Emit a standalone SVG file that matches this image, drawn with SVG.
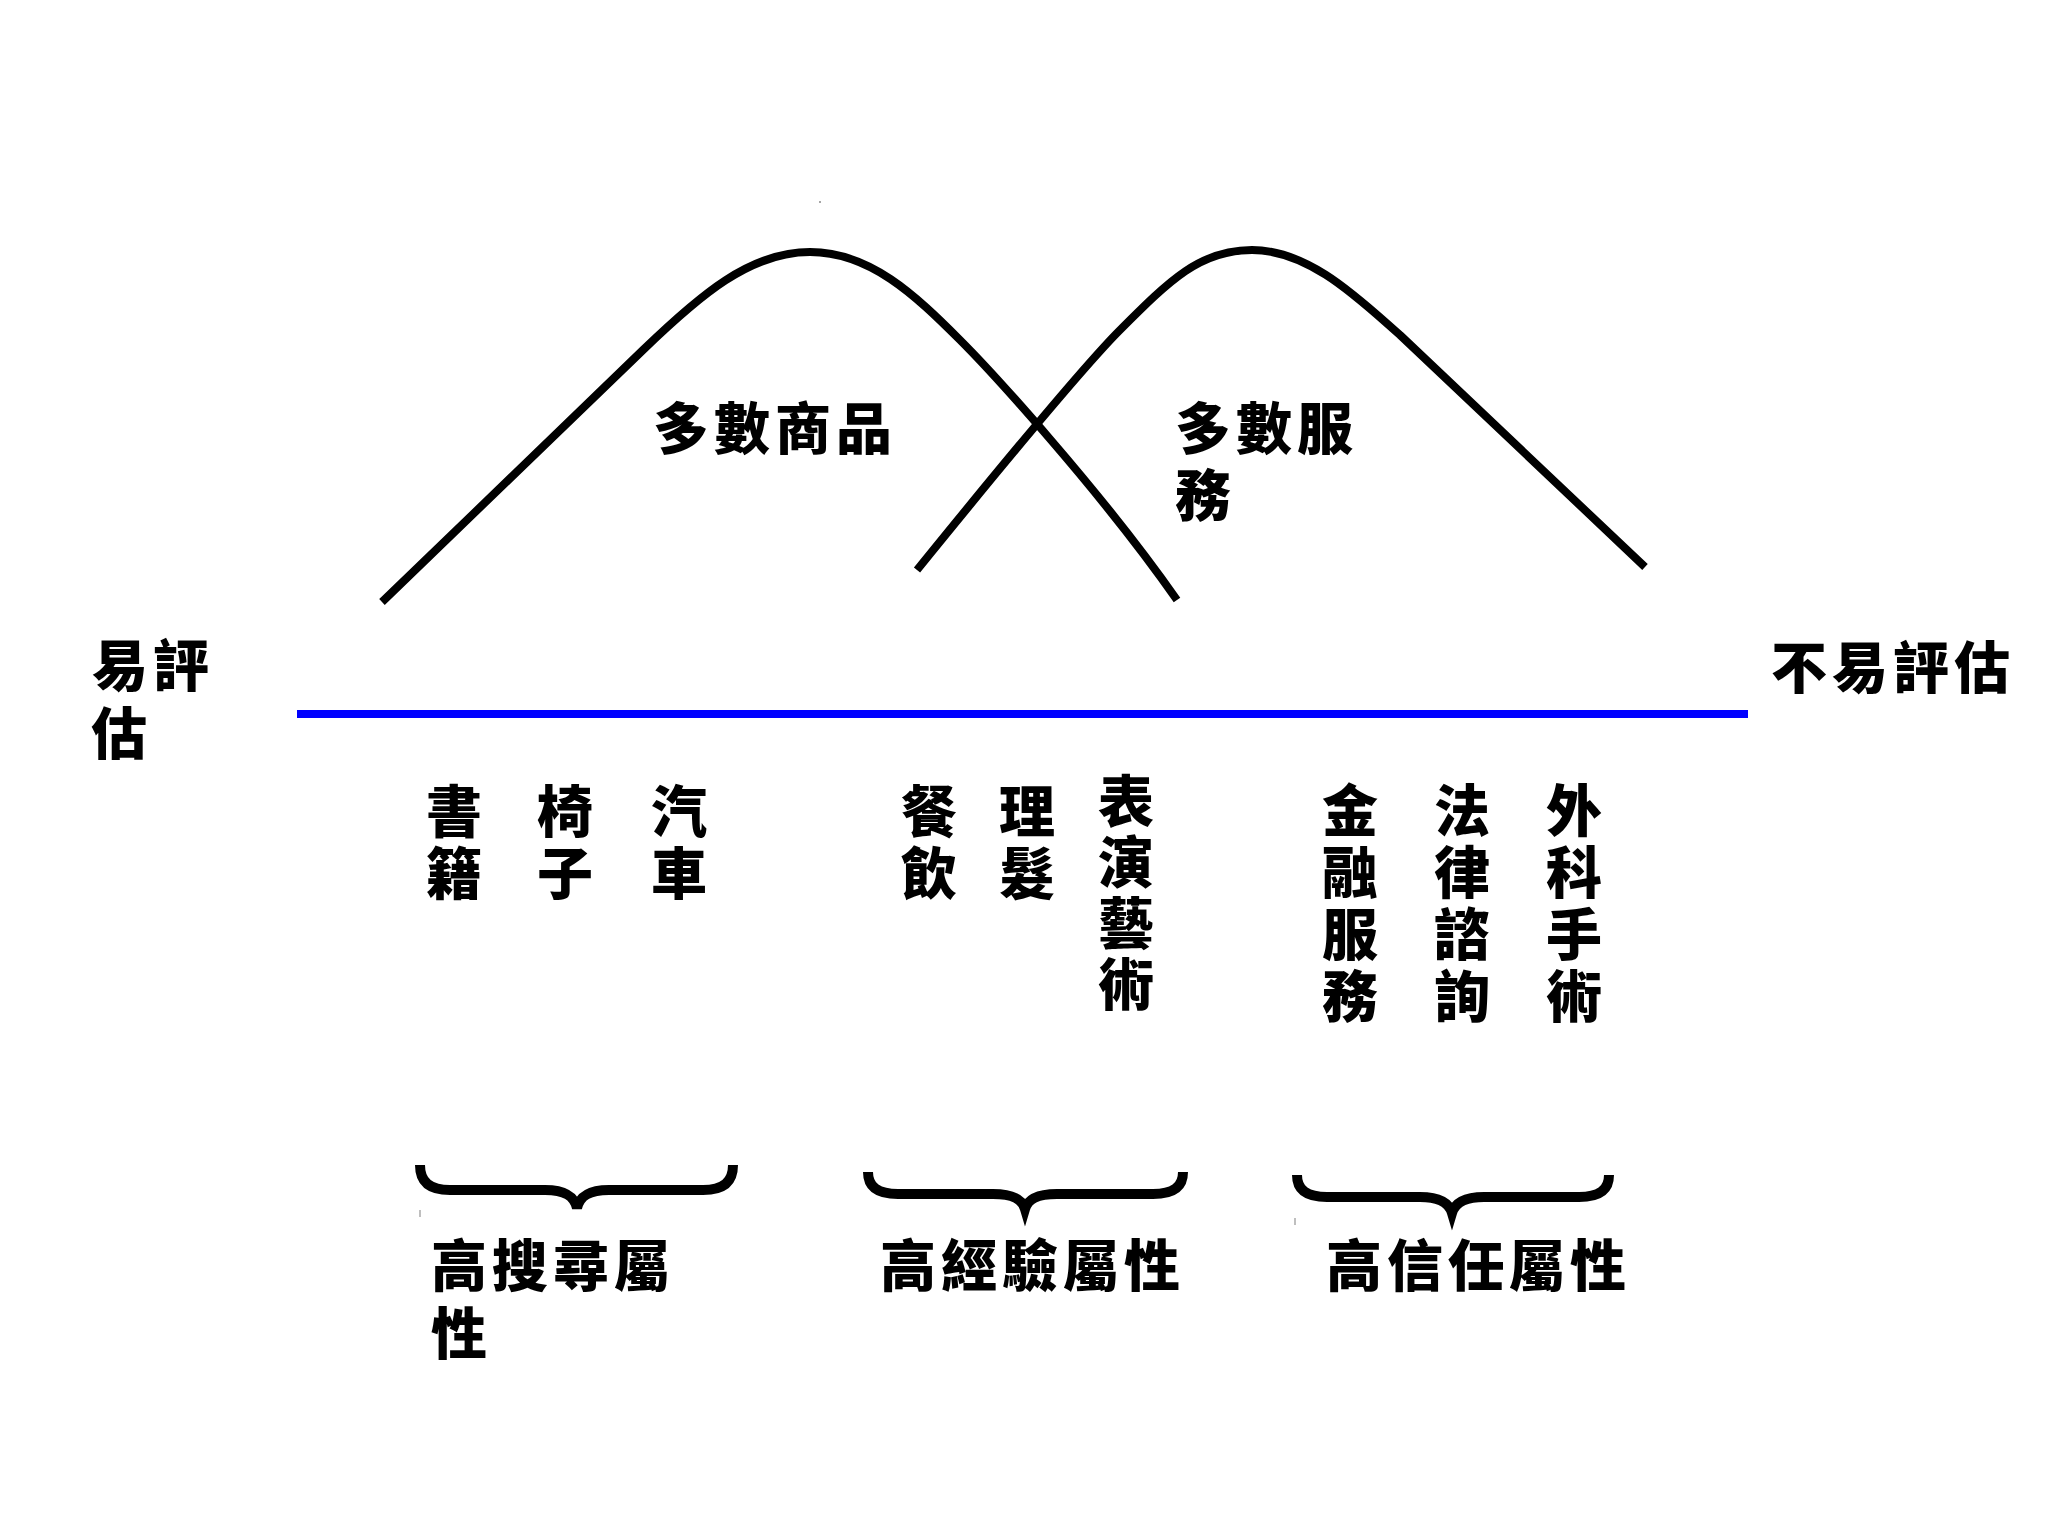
<svg xmlns="http://www.w3.org/2000/svg" width="2048" height="1536" viewBox="0 0 2048 1536">
<style>
.t{font-family:"Noto Sans CJK TC","Noto Sans CJK SC",sans-serif;font-weight:900;font-size:56px;fill:#000;letter-spacing:5px}
.c{text-anchor:middle;letter-spacing:0}
.curve{fill:none;stroke:#000;stroke-width:8;stroke-linejoin:round}
.brace{fill:none;stroke:#000;stroke-width:10}
.tick{stroke:#aaa;stroke-width:1.5}
</style>
<rect width="2048" height="1536" fill="#fff"/>
<g id="curves">
<path id="goods-curve" class="curve" d="M382,602 L643,350 C700,295 750,252 810,252 C870,252 915,295 960,340 C990,370 1100,490 1177,600"/>
<path id="services-curve" class="curve" d="M917,570 C990,480 1080,370 1120,330 C1170,280 1200,250 1252,250 C1310,250 1360,300 1400,335 L1645,567"/>
<circle cx="820" cy="202" r="1" fill="#888"/>
</g>
<g id="axis">
<line x1="297" y1="714" x2="1748" y2="714" stroke="#0000ff" stroke-width="8"/>
</g>
<g id="label-goods"><text class="t" x="653" y="449">多數商品</text></g>
<g id="label-services"><text class="t" x="1175" y="449">多數服</text><text class="t" x="1175" y="516">務</text></g>
<g id="label-easy"><text class="t" x="92" y="686">易評</text><text class="t" x="91" y="754">估</text></g>
<g id="label-hard"><text class="t" x="1771" y="688">不易評估</text></g>
<g id="examples">
<text class="t c" x="454" y="832"><tspan x="454">書</tspan><tspan x="454" dy="62">籍</tspan></text>
<text class="t c" x="565" y="832"><tspan x="565">椅</tspan><tspan x="565" dy="62">子</tspan></text>
<text class="t c" x="679" y="832"><tspan x="679">汽</tspan><tspan x="679" dy="62">車</tspan></text>
<text class="t c" x="929" y="832"><tspan x="929">餐</tspan><tspan x="929" dy="62">飲</tspan></text>
<text class="t c" x="1027" y="832"><tspan x="1027">理</tspan><tspan x="1027" dy="62">髮</tspan></text>
<text class="t c" x="1126" y="822"><tspan x="1126">表</tspan><tspan x="1126" dy="61">演</tspan><tspan x="1126" dy="61">藝</tspan><tspan x="1126" dy="61">術</tspan></text>
<text class="t c" x="1350" y="831"><tspan x="1350">金</tspan><tspan x="1350" dy="62">融</tspan><tspan x="1350" dy="62">服</tspan><tspan x="1350" dy="62">務</tspan></text>
<text class="t c" x="1462" y="831"><tspan x="1462">法</tspan><tspan x="1462" dy="62">律</tspan><tspan x="1462" dy="62">諮</tspan><tspan x="1462" dy="62">詢</tspan></text>
<text class="t c" x="1574" y="831"><tspan x="1574">外</tspan><tspan x="1574" dy="62">科</tspan><tspan x="1574" dy="62">手</tspan><tspan x="1574" dy="62">術</tspan></text>
</g>
<g id="braces">
<path class="brace" d="M420,1165 C420,1182 430,1190 450,1190 L545,1190 C565,1190 574,1196 577,1208 C580,1196 589,1190 609,1190 L703,1190 C723,1190 733,1182 733,1165"/>
<path class="brace" d="M868,1172 C868,1187 878,1194 898,1194 L993,1194 C1013,1194 1022,1199 1025,1209 C1028,1199 1037,1194 1057,1194 L1153,1194 C1173,1194 1183,1187 1183,1172"/>
<path class="brace" d="M1297,1175 C1297,1190 1307,1197 1327,1197 L1420,1197 C1440,1197 1449,1203 1452,1213 C1455,1203 1464,1197 1484,1197 L1579,1197 C1599,1197 1609,1190 1609,1175"/>
<line class="tick" x1="420" y1="1210" x2="420" y2="1217"/>
<line class="tick" x1="1295" y1="1218" x2="1295" y2="1225"/>
</g>
<g id="label-search"><text class="t" x="431" y="1286">高搜尋屬</text><text class="t" x="431" y="1354">性</text></g>
<g id="label-experience"><text class="t" x="880" y="1286">高經驗屬性</text></g>
<g id="label-credence"><text class="t" x="1326" y="1286">高信任屬性</text></g>
</svg>
